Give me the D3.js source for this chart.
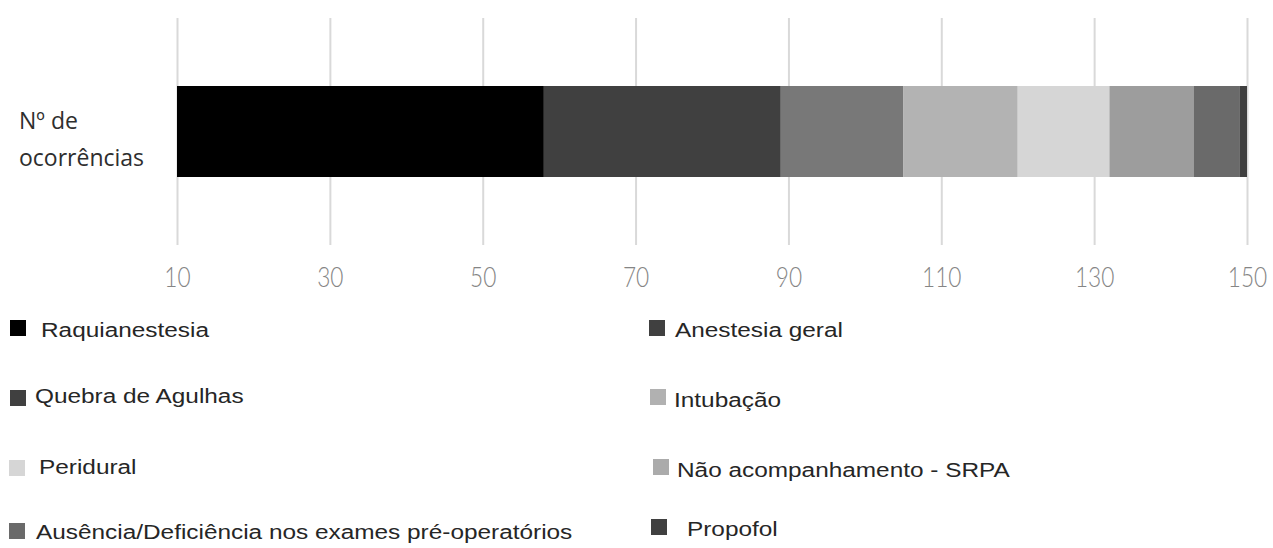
<!DOCTYPE html>
<html>
<head>
<meta charset="utf-8">
<script src="https://cdn.jsdelivr.net/npm/d3@7"></script>
<style>
  html, body { margin: 0; padding: 0; background: #fff; }
  svg { display: block; }
</style>
</head>
<body>
<svg id="chart" width="1273" height="548"></svg>
<script>
// Ocorrências por tipo (barra única empilhada)
const categories = ["Nº de ocorrências"];
const seriesNames = [
  "Raquianestesia",
  "Anestesia geral",
  "Quebra de Agulhas",
  "Intubação",
  "Peridural",
  "Não acompanhamento - SRPA",
  "Ausência/Deficiência nos exames pré-operatórios",
  "Propofol"
];
const seriesValues = [58, 31, 16, 15, 12, 11, 6, 1];
const seriesColors = ["#000000", "#404040", "#787878", "#b3b3b3", "#d6d6d6", "#9d9d9d", "#6a6a6a", "#404040"];
const legendSwatchColors = ["#000000", "#404040", "#404040", "#b1b1b1", "#d6d6d6", "#ababab", "#6a6a6a", "#404040"];
const tickValues = [10, 30, 50, 70, 90, 110, 130, 150];

const svg = d3.select("#chart");

const x = d3.scaleLinear().domain([10, 150]).range([177, 1247]);
const gridTop = 18, gridBottom = 245;
const y = d3.scaleBand().domain(categories).range([gridTop, gridBottom]).paddingInner(0).paddingOuter(0.3);

// Vertical gridlines and tick labels
const axis = d3.axisBottom(x)
  .tickValues(tickValues)
  .tickFormat(d3.format("d"))
  .tickSize(-(gridBottom - gridTop))
  .tickPadding(23);

const gAxis = svg.append("g")
  .attr("transform", `translate(0,${gridBottom})`)
  .call(axis);
gAxis.select(".domain").remove();
gAxis.selectAll(".tick line").attr("stroke", "#d9d9d9").attr("stroke-width", 2);
gAxis.selectAll(".tick text")
  .attr("fill", "#858585")
  .attr("font-family", "Lato, 'Open Sans', sans-serif")
  .attr("font-weight", 300)
  .attr("font-size", 27)
  .attr("transform", "scale(0.84,1)");

// Stacked segments
const ends = Array.from(d3.cumsum(seriesValues));
const segs = seriesValues.map((v, i) => ({
  name: seriesNames[i],
  start: i === 0 ? 0 : ends[i - 1],
  end: ends[i],
  color: seriesColors[i]
}));

const barY = 86, barH = 91;
svg.append("g").selectAll("rect")
  .data(segs)
  .join("rect")
  .attr("x", d => x(Math.max(d.start, x.domain()[0])))
  .attr("width", d => x(d.end) - x(Math.max(d.start, x.domain()[0])))
  .attr("y", barY)
  .attr("height", barH)
  .attr("fill", d => d.color);

// Category label
const catLabel = svg.append("text")
  .attr("font-family", "'Open Sans', 'Liberation Sans', sans-serif")
  .attr("font-size", 23)
  .attr("fill", "#2e2e2e");
catLabel.append("tspan").attr("x", 19).attr("y", 129).text("Nº de");
catLabel.append("tspan").attr("x", 19).attr("y", 166).text("ocorrências");

// Legend, two columns
const legendItems = [
  { i: 0, sx: 10, sy: 320, tx: 41, ty: 337 },
  { i: 1, sx: 649, sy: 320, tx: 675, ty: 337 },
  { i: 2, sx: 10, sy: 390, tx: 35, ty: 403 },
  { i: 3, sx: 650, sy: 389, tx: 674, ty: 407 },
  { i: 4, sx: 9, sy: 460, tx: 39, ty: 474 },
  { i: 5, sx: 653, sy: 459, tx: 677, ty: 477 },
  { i: 6, sx: 9, sy: 523, tx: 36, ty: 539 },
  { i: 7, sx: 651, sy: 519, tx: 687, ty: 536 }
];

const lg = svg.append("g");
lg.selectAll("rect")
  .data(legendItems)
  .join("rect")
  .attr("x", d => d.sx)
  .attr("y", d => d.sy)
  .attr("width", 16)
  .attr("height", 16)
  .attr("fill", d => legendSwatchColors[d.i]);

lg.selectAll("text")
  .data(legendItems)
  .join("text")
  .attr("transform", d => `translate(${d.tx},${d.ty}) scale(1.25,1)`)
  .attr("font-family", "'Liberation Sans', Arial, sans-serif")
  .attr("font-size", 19.5)
  .attr("fill", "#262626")
  .text(d => seriesNames[d.i]);
</script>
</body>
</html>
